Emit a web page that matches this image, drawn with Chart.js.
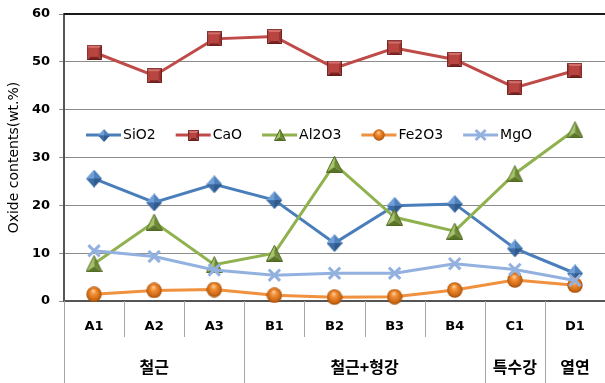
<!DOCTYPE html>
<html>
<head>
<meta charset="utf-8">
<script src="https://cdn.jsdelivr.net/npm/chart.js@4/dist/chart.umd.min.js"></script>
<style>
  body { margin: 0; background: #fff; }
  #wrap { width: 605px; height: 383px; }
</style>
</head>
<body>
<div id="wrap"><canvas id="myChart" width="605" height="383"></canvas></div>
<script>
// samples and their groups
const categories = ["A1", "A2", "A3", "B1", "B2", "B3", "B4", "C1", "D1"];
const groupLabels = ["철근", "철근+형강", "특수강", "열연"];
const groupSizes = [3, 4, 1, 1];

// oxide contents (wt.%)
const sio2 = [25.6, 20.6, 24.4, 21.1, 12.1, 19.9, 20.3, 11.0, 5.8];
const cao = [52.0, 47.1, 54.8, 55.3, 48.7, 52.9, 50.5, 44.6, 48.2];
const al2o3 = [7.8, 16.5, 7.6, 10.0, 28.6, 17.5, 14.6, 26.6, 35.8];
const fe2o3 = [1.4, 2.2, 2.4, 1.2, 0.8, 0.9, 2.3, 4.4, 3.3];
const mgo = [10.5, 9.3, 6.5, 5.4, 5.8, 5.8, 7.8, 6.6, 4.3];

const yTicks = [0, 10, 20, 30, 40, 50, 60];

// small shaded marker images
function newCanvas(w, h) {
	const c = document.createElement("canvas");
	c.width = w;
	c.height = h;
	return c;
}

function diamond(w, h, cols) {
	const c = newCanvas(w, h);
	const g = c.getContext("2d");
	const cx = w / 2, cy = h / 2;
	const pts = [[0, cy], [cx, 0], [w, cy], [cx, h]];
	for (let i = 0; i < 4; i++) {
		const a = pts[i], b = pts[(i + 1) % 4];
		g.beginPath();
		g.moveTo(cx, cy);
		g.lineTo(a[0], a[1]);
		g.lineTo(b[0], b[1]);
		g.closePath();
		g.fillStyle = cols[i];
		g.fill();
	}
	return c;
}

function square(s, cols, inner) {
	const c = newCanvas(s, s);
	const g = c.getContext("2d");
	const b = 3;
	const o = [[0, 0], [s, 0], [s, s], [0, s]];
	const n = [[b, b], [s - b, b], [s - b, s - b], [b, s - b]];
	for (let i = 0; i < 4; i++) {
		const j = (i + 1) % 4;
		g.beginPath();
		g.moveTo(o[i][0], o[i][1]);
		g.lineTo(o[j][0], o[j][1]);
		g.lineTo(n[j][0], n[j][1]);
		g.lineTo(n[i][0], n[i][1]);
		g.closePath();
		g.fillStyle = cols[i];
		g.fill();
	}
	g.fillStyle = inner;
	g.fillRect(b, b, s - 2 * b, s - 2 * b);
	g.strokeStyle = "rgba(90,20,20,0.6)";
	g.lineWidth = 1;
	g.strokeRect(0.5, 0.5, s - 1, s - 1);
	return c;
}

function triangle(w, h, cols, edge) {
	const c = newCanvas(w, h);
	const g = c.getContext("2d");
	const top = [w / 2, 0.5], bl = [0.5, h - 0.5], br = [w - 0.5, h - 0.5];
	const m = [w / 2, h * 0.66];
	const faces = [[top, bl], [top, br], [bl, br]];
	for (let i = 0; i < 3; i++) {
		g.beginPath();
		g.moveTo(m[0], m[1]);
		g.lineTo(faces[i][0][0], faces[i][0][1]);
		g.lineTo(faces[i][1][0], faces[i][1][1]);
		g.closePath();
		g.fillStyle = cols[i];
		g.fill();
	}
	g.beginPath();
	g.moveTo(top[0], top[1]);
	g.lineTo(bl[0], bl[1]);
	g.lineTo(br[0], br[1]);
	g.closePath();
	g.strokeStyle = edge;
	g.lineWidth = 1;
	g.stroke();
	return c;
}

function ball(d) {
	const c = newCanvas(d, d);
	const g = c.getContext("2d");
	const r = d / 2;
	const grad = g.createRadialGradient(r * 0.9, r * 0.55, r * 0.05, r, r, r);
	grad.addColorStop(0, "#fbcf9c");
	grad.addColorStop(0.3, "#f39038");
	grad.addColorStop(0.75, "#d06a14");
	grad.addColorStop(1, "#9a4a08");
	g.beginPath();
	g.arc(r, r, r - 0.3, 0, Math.PI * 2);
	g.fillStyle = grad;
	g.fill();
	return c;
}

const diamondCols = ["#6f9fd6", "#4f81bd", "#2f5a8e", "#3d6ca5"];
const squareCols = ["#d46f6c", "#9e3532", "#7d2522", "#b2423f"];
const triCols = ["#a7c56a", "#6e8a34", "#5a7428"];

const markers = {
	sio2: diamond(16, 18, diamondCols),
	cao: square(15, squareCols, "#b8453f"),
	al2o3: triangle(17, 17, triCols, "#4f6a22"),
	fe2o3: ball(16)
};
const legendMarkers = {
	sio2: diamond(12, 13, diamondCols),
	cao: square(11, squareCols, "#b8453f"),
	al2o3: triangle(12, 12, triCols, "#4f6a22"),
	fe2o3: ball(12)
};

const series = [
	{ label: "SiO2", data: sio2, color: "#4a7ebb", style: markers.sio2, legend: legendMarkers.sio2 },
	{ label: "CaO", data: cao, color: "#be4b48", style: markers.cao, legend: legendMarkers.cao },
	{ label: "Al2O3", data: al2o3, color: "#8fb24f", style: markers.al2o3, legend: legendMarkers.al2o3 },
	{ label: "Fe2O3", data: fe2o3, color: "#f0913f", style: markers.fe2o3, legend: legendMarkers.fe2o3 },
	{ label: "MgO", data: mgo, color: "#93b1df", style: "crossRot", legend: "crossRot" }
];

// plot frame: top border, category separators, group labels
const framePlugin = {
	id: "frame",
	afterDraw(chart) {
		const ctx = chart.ctx;
		const area = chart.chartArea;
		const x = chart.scales.x;
		const H = chart.height;

		ctx.save();
		ctx.strokeStyle = "#1a1a1a";
		ctx.lineWidth = 2;
		ctx.beginPath();
		ctx.moveTo(area.left, area.top);
		ctx.lineTo(area.right, area.top);
		ctx.stroke();

		// short separators between samples
		ctx.strokeStyle = "#a6a6a6";
		ctx.lineWidth = 1;
		for (let i = 0; i <= categories.length; i++) {
			const px = Math.round(x.getPixelForValue(i - 0.5)) + 0.5;
			ctx.beginPath();
			ctx.moveTo(px, area.bottom);
			ctx.lineTo(px, area.bottom + 36);
			ctx.stroke();
		}

		// long separators between groups and group names
		let start = 0;
		ctx.font = "bold 16px 'Noto Sans CJK KR'";
		ctx.fillStyle = "#000";
		ctx.textAlign = "center";
		ctx.textBaseline = "middle";
		for (let k = 0; k <= groupSizes.length; k++) {
			const px = Math.round(x.getPixelForValue(start - 0.5)) + 0.5;
			ctx.beginPath();
			ctx.moveTo(px, area.bottom);
			ctx.lineTo(px, H);
			ctx.stroke();
			if (k < groupSizes.length) {
				const end = start + groupSizes[k];
				const cx = (x.getPixelForValue(start - 0.5) + x.getPixelForValue(end - 0.5)) / 2;
				ctx.fillText(groupLabels[k], cx, area.bottom + 66);
				start = end;
			}
		}
		ctx.restore();
	}
};

// legend drawn inside the plot area
const legendPlugin = {
	id: "innerLegend",
	afterDatasetsDraw(chart) {
		const ctx = chart.ctx;
		const area = chart.chartArea;
		let lx = area.left + 22;
		const ly = area.top + 121;
		ctx.save();
		ctx.font = "14px 'DejaVu Sans'";
		ctx.textBaseline = "middle";
		ctx.textAlign = "left";
		series.forEach(function(s) {
			ctx.strokeStyle = s.color;
			ctx.lineWidth = 3;
			ctx.beginPath();
			ctx.moveTo(lx, ly);
			ctx.lineTo(lx + 35, ly);
			ctx.stroke();
			const mx = lx + 17.5;
			if (typeof s.legend === "string") {
				ctx.lineWidth = 3;
				Chart.helpers.drawPoint(ctx, { pointStyle: s.legend, radius: 7, borderWidth: 3, rotation: 0 }, mx, ly);
			} else {
				ctx.drawImage(s.legend, Math.round(mx - s.legend.width / 2), Math.round(ly - s.legend.height / 2));
			}
			ctx.fillStyle = "#000";
			ctx.fillText(s.label, lx + 37, ly);
			lx += 37 + ctx.measureText(s.label).width + 20;
		});
		ctx.restore();
	}
};

const datasets = series.map(function(s, i) {
	return {
		label: s.label,
		data: s.data,
		borderColor: s.color,
		backgroundColor: s.color,
		borderWidth: 3,
		pointStyle: s.style,
		pointRadius: 8,
		pointBorderWidth: typeof s.style === "string" ? 3 : 0,
		pointBorderColor: s.color,
		tension: 0,
		clip: false,
		order: series.length - i
	};
});

const config = {
	type: "line",
	data: { labels: categories, datasets: datasets },
	options: {
		responsive: false,
		devicePixelRatio: 1,
		animation: false,
		layout: { autoPadding: false, padding: { top: 14, right: 0, left: 0, bottom: 0 } },
		plugins: {
			legend: { display: false },
			tooltip: { enabled: false }
		},
		scales: {
			x: {
				offset: true,
				grid: { display: false },
				border: { display: true, color: "#555", width: 2 },
				ticks: {
					color: "#000",
					font: { family: "DejaVu Sans", size: 13, weight: "bold" },
					padding: 10,
					maxRotation: 0
				},
				afterFit: function(scale) {
					scale.height = 82;
					scale.paddingLeft = 0;
					scale.paddingRight = 0;
				}
			},
			y: {
				min: 0,
				max: 60,
				afterBuildTicks: function(scale) {
					scale.ticks = yTicks.map(function(v) { return { value: v }; });
				},
				grid: { color: "#8c8c8c", lineWidth: 1, tickLength: 5 },
				border: { display: true, color: "#555", width: 2 },
				ticks: {
					color: "#000",
					font: { family: "DejaVu Sans", size: 13, weight: "bold" },
					padding: 9
				},
				title: {
					display: true,
					text: "Oxide contents(wt.%)",
					color: "#000",
					font: { family: "DejaVu Sans", size: 14 },
					padding: { top: 6, bottom: 0 }
				},
				afterFit: function(scale) {
					scale.width = 64;
					scale.paddingTop = 0;
					scale.paddingBottom = 0;
				}
			}
		}
	},
	plugins: [framePlugin, legendPlugin]
};

new Chart(document.getElementById("myChart"), config);
</script>
</body>
</html>
